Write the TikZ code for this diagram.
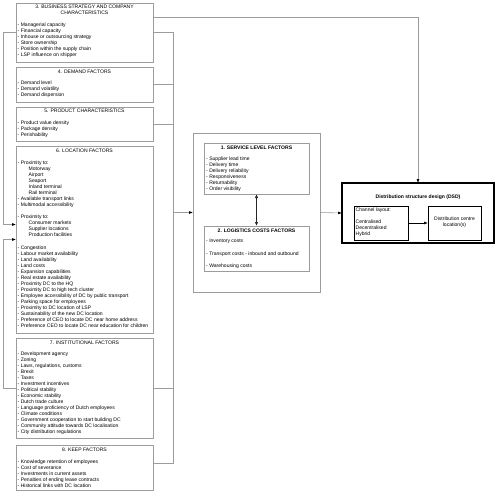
\documentclass[tikz,border=0pt]{standalone}
\usepackage{fontspec}
\setmainfont{Liberation Sans}
\usetikzlibrary{arrows.meta,calc}
\definecolor{lg}{HTML}{9C9C9C}
\newcommand\ft{\fontsize{5.05}{6.07}\selectfont}
\begin{document}
\begin{tikzpicture}[x=1pt,y=-1pt,
  box/.style={draw=lg, line width=0.6pt, inner sep=0pt, outer sep=0pt, anchor=north west},
  kbox/.style={draw=black, line width=0.6pt, inner sep=0pt, outer sep=0pt, anchor=north west},
  lst/.style={anchor=north west, inner sep=0pt, align=left, font=\ft},
  ttl/.style={inner sep=0pt, align=center, font=\ft},
  bttl/.style={inner sep=0pt, align=center, font=\ft\bfseries},
  gl/.style={draw=lg, line width=0.6pt},
  conn/.style={draw=lg, line width=0.6pt, -{Latex[length=3.8pt,width=2.8pt,color=black]}},
  dbl/.style={draw=black!85, line width=1.4pt, {Latex[length=4pt,width=3.4pt]}-{Latex[length=4pt,width=3.4pt]}},
  karr/.style={draw=black, line width=0.6pt, -{Latex[length=3.8pt,width=2.8pt]}}]
\useasboundingbox (0,0) rectangle (500,496);

% left column boxes
\node[box, minimum width=137pt, minimum height=59pt] (b3) at (16,3) {};
\node[box, minimum width=137pt, minimum height=35pt] (b4) at (16,67) {};
\node[box, minimum width=137pt, minimum height=34pt] (b5) at (16,107) {};
\node[box, minimum width=137pt, minimum height=187pt] (b6) at (16,146) {};
\node[box, minimum width=137pt, minimum height=100pt] (b7) at (16,338) {};
\node[box, minimum width=137pt, minimum height=45pt] (b8) at (16,445) {};

% middle
\node[box, minimum width=127pt, minimum height=159pt] (mid) at (193,133) {};
\node[box, minimum width=105pt, minimum height=51pt] (s1) at (204,143) {};
\node[box, minimum width=105pt, minimum height=45pt] (s2) at (204,226) {};

% DSD
\node[kbox, line width=1.3pt, minimum width=152pt, minimum height=60pt] (dsd) at (342,183) {};
\node[kbox, minimum width=54pt, minimum height=34pt] (ch) at (354,206) {};
\node[kbox, minimum width=53pt, minimum height=34pt] (dc) at (428,206) {};

% texts
\node[ttl] (t3) at (84.5,10) {3. BUSINESS STRATEGY AND COMPANY\\CHARACTERISTICS};
\node[lst] (l3) at (17.5,22.2) {- Managerial capacity\\- Financial capacity\\- Inhouse or outsourcing strategy\\- Store ownership\\- Position within the supply chain\\- LSP influence on shipper};

\node[ttl] (t4) at (84.5,71.5) {4. DEMAND FACTORS};
\node[lst] (l4) at (17.5,80.2) {- Demand level\\- Demand volatility\\- Demand dispersion};

\node[ttl] (t5) at (84.5,110.5) {5. PRODUCT CHARACTERISTICS};
\node[lst] (l5) at (17.5,120.2) {- Product value density\\- Package density\\- Perishability};

\node[ttl] (t6) at (84.5,150.5) {6. LOCATION FACTORS};
\node[lst] (l6) at (17.5,160.2) {- Proximity to:\\
\hspace*{11pt}Motorway\\
\hspace*{11pt}Airport\\
\hspace*{11pt}Seaport\\
\hspace*{11pt}Inland terminal\\
\hspace*{11pt}Rail terminal\\
- Available transport links\\
- Multimodal accessibility\\[6.07pt]
- Proximity to:\\
\hspace*{11pt}Consumer markets\\
\hspace*{11pt}Supplier locations\\
\hspace*{11pt}Production facilities\\[6.07pt]
- Congestion\\
- Labour market availability\\
- Land availability\\
- Land costs\\
- Expansion capabilities\\
- Real estate availability\\
- Proximity DC to the HQ\\
- Proximity DC to high tech cluster\\
- Employee accessibility of DC by public transport\\
- Parking space for employees\\
- Proximity to DC location of LSP\\
- Sustainability of the new DC location\\
- Preference of CEO to locate DC near home address\\
- Preference CEO to locate DC near education for children};

\node[ttl] (t7) at (84.5,342.5) {7. INSTITUTIONAL FACTORS};
\node[lst] (l7) at (17.5,351.2) {- Development agency\\- Zoning\\- Laws, regulations, customs\\- Brexit\\- Taxes\\- Investment incentives\\- Political stability\\- Economic stability\\- Dutch trade culture\\- Language proficiency of Dutch employees\\- Climate conditions\\- Government cooperation to start building DC\\- Community attitude towards DC localisation\\- City distribution regulations};

\node[ttl] (t8) at (84.5,449.5) {8. KEEP FACTORS};
\node[lst] (l8) at (17.5,459.2) {- Knowledge retention of employees\\- Cost of severance\\- Investments in current assets\\- Penalties of ending lease contracts\\- Historical links with DC location};

\node[bttl] (t1) at (256.5,147.5) {1. SERVICE LEVEL FACTORS};
\node[lst] (l1) at (206,156.2) {- Supplier lead time\\- Delivery time\\- Delivery reliability\\- Responsiveness\\- Returnability\\- Order visibility};

\node[bttl] (t2) at (256.5,230.5) {2. LOGISTICS COSTS FACTORS};
\node[lst] (l2) at (206,239.2) {- Inventory costs\\[6.07pt]- Transport costs - inbound and outbound\\[6.07pt]- Warehousing costs};

\node[bttl] (td) at (418,197.5) {Distribution structure design (DSD)};
\node[lst] (lc) at (355.5,207.2) {Channel layout:\\[6.07pt]Centralised\\Decentralised\\Hybrid};
\node[ttl] (tdc) at (454.5,222.5) {Distribution centre\\location(s)};

% connectors
\draw[conn] ([yshift=-14pt]b3.north east) -| (dsd.north);
\draw[conn] (b3.west) -- ++(-13,0) |- ([yshift=15pt]b6.west);
\draw[conn] (b7.west) -- ++(-13,0) |- (b6.west);
\coordinate (rb) at (173,463);
\draw[gl] (b3.east) -| (rb) -- (rb -| b8.east);
\draw[gl] (b4.east) -- (b4.east -| rb);
\draw[gl] (b5.east) -- (b5.east -| rb);
\draw[gl] (b7.east) -- (b7.east -| rb);
\draw[conn] (mid.west -| rb) -- (mid.west);
\draw[conn] (mid.east) -- (dsd.west);
\draw[dbl] (s1.south) -- (s2.north);
\draw[karr] (ch.east) -- (dc.west);
\end{tikzpicture}
\end{document}
